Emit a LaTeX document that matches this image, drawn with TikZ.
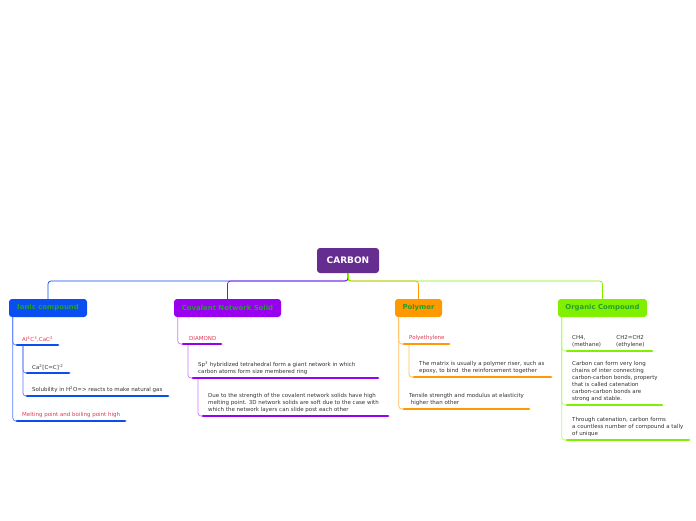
\documentclass[tikz,border=0pt]{standalone}
\usepackage{fontspec}
\setmainfont{DejaVu Sans}
\definecolor{rootc}{HTML}{662D91}
\definecolor{ionc}{HTML}{0A4DF0}
\definecolor{ionl}{HTML}{5A7DFF}
\definecolor{covc}{HTML}{9A00F0}
\definecolor{covl}{HTML}{CC7AFF}
\definecolor{polc}{HTML}{FF9900}
\definecolor{poll}{HTML}{FFBE5C}
\definecolor{orgc}{HTML}{80F000}
\definecolor{orgl}{HTML}{B0FF60}
\definecolor{topt}{HTML}{22A02A}
\definecolor{redt}{HTML}{E03A55}
\definecolor{grayt}{HTML}{333333}
\tikzset{
  rootbox/.style={fill=rootc, rounded corners=3pt, text=white, font=\bfseries\fontsize{9}{10}\selectfont, minimum width=62pt, minimum height=25pt, inner sep=0},
  topbox/.style={rounded corners=3pt, text=topt, font=\bfseries\fontsize{6.9}{8}\selectfont, minimum height=18pt, inner sep=0},
  subtxt/.style={anchor=south west, inner sep=0, align=left, text=grayt, font=\fontsize{5.5}{7}\selectfont},
  redtxt/.style={subtxt, text=redt},
  ul/.style={line width=2.8pt, line cap=round},
  conn/.style={line width=0.7pt, rounded corners=3pt},
}
\begin{document}
\begin{tikzpicture}[x=1pt,y=-1pt]
\useasboundingbox[fill=white] (0,0) rectangle (696,520);
% root and topics
\node[rootbox] (root) at (348,260.5) {CARBON};
\node[topbox, fill=ionc, minimum width=78pt] (ion) at (48,308) {Ionic compound};
\node[topbox, fill=covc, minimum width=107pt] (cov) at (227.5,308) {Covalent Network Solid};
\node[topbox, fill=polc, minimum width=47pt] (pol) at (418.5,308) {Polymer};
\node[topbox, fill=orgc, minimum width=89pt] (org) at (602.5,308) {Organic Compound};
% main connectors
\draw[conn, ionc] (root.south) |- (300,281) -| (ion.north);
\draw[conn, covc] (root.south) |- (300,281) -| (cov.north);
\draw[conn, polc] (root.south) |- (400,281) -| (pol.north);
\draw[conn, orgc] (root.south) |- (400,281) -| (org.north);
\draw[conn, orgc, rounded corners=0] (root.south) -- (348,281);

% ---------- Ionic ----------
\coordinate (i1) at (17,345); \coordinate (i1e) at (58,345);
\coordinate (i2) at (27,373); \coordinate (i2e) at (69,373);
\coordinate (i3) at (27,396); \coordinate (i3e) at (168,396);
\coordinate (i4) at (17,421); \coordinate (i4e) at (125,421);
\draw[conn, ionl] ([xshift=4pt]ion.south west) |- (i4);
\draw[conn, ionl] ([xshift=4pt]ion.south west) |- (i1);
\draw[conn, ionl] ([xshift=6pt]i1) |- (i3);
\draw[conn, ionl] ([xshift=6pt]i1) |- (i2);
\draw[ul, ionc] (i1) -- (i1e);
\draw[ul, ionc] (i2) -- (i2e);
\draw[ul, ionc] (i3) -- (i3e);
\draw[ul, ionc] (i4) -- (i4e);
\node[redtxt] (ti1) at (22,342) {Al\textsuperscript{4}C\textsuperscript{3},CaC\textsuperscript{2}};
\node[subtxt] (ti2) at (32,370) {Ca\textsuperscript{2}[C=C]\textsuperscript{-2}};
\node[subtxt] (ti3) at (32,393) {Solubility in H\textsuperscript{2}O=> reacts to make natural gas};
\node[redtxt] (ti4) at (22,418) {Melting point and boiling point high};

% ---------- Covalent ----------
\coordinate (c1) at (183,344); \coordinate (c1e) at (221,344);
\coordinate (c2) at (193,378); \coordinate (c2e) at (378,378);
\coordinate (c3) at (203,416); \coordinate (c3e) at (388,416);
\draw[conn, covl] ([xshift=4pt]cov.south west) |- (c1);
\draw[conn, covl] ([xshift=5pt]c1) |- (c2);
\draw[conn, covl] ([xshift=5pt]c2) |- (c3);
\draw[ul, covc] (c1) -- (c1e);
\draw[ul, covc] (c2) -- (c2e);
\draw[ul, covc] (c3) -- (c3e);
\node[redtxt] (tc1) at (189,341) {DIAMOND};
\node[subtxt] (tc2) at (198,375) {Sp\textsuperscript{3} hybridized tetrahedral form a giant network in which\\carbon atoms form size membered ring};
\node[subtxt] (tc3) at (208,413) {Due to the strength of the covalent network solids have high\\melting point. 3D network solids are soft due to the case with\\which the network layers can slide post each other};

% ---------- Polymer ----------
\coordinate (p1) at (404,344); \coordinate (p1e) at (449,344);
\coordinate (p2) at (414,377); \coordinate (p2e) at (551,377);
\coordinate (p3) at (404,409); \coordinate (p3e) at (529,409);
\draw[conn, poll] ([xshift=4pt]pol.south west) |- (p3);
\draw[conn, poll] ([xshift=4pt]pol.south west) |- (p1);
\draw[conn, poll] ([xshift=5pt]p1) |- (p2);
\draw[ul, polc] (p1) -- (p1e);
\draw[ul, polc] (p2) -- (p2e);
\draw[ul, polc] (p3) -- (p3e);
\node[redtxt] (tp1) at (409,341) {Polyethylene};
\node[subtxt] (tp2) at (419,374) {The matrix is usually a polymer riser, such as\\epoxy, to bind\ \ the reinforcement together};
\node[subtxt] (tp3) at (409,406) {Tensile strength and modulus at elasticity\\\ higher than other};

% ---------- Organic ----------
\coordinate (o1) at (567,351); \coordinate (o1e) at (652,351);
\coordinate (o2) at (567,405); \coordinate (o2e) at (662,405);
\coordinate (o3) at (567,440); \coordinate (o3e) at (689,440);
\draw[conn, orgl] ([xshift=4pt]org.south west) |- (o3);
\draw[conn, orgl] ([xshift=4pt]org.south west) |- (o2);
\draw[conn, orgl] ([xshift=4pt]org.south west) |- (o1);
\draw[ul, orgc] (o1) -- (o1e);
\draw[ul, orgc] (o2) -- (o2e);
\draw[ul, orgc] (o3) -- (o3e);
\node[subtxt] (to1) at (572,348) {CH4,\hspace{31pt}CH2=CH2\\(methane)\hspace{15pt}(ethylene)};
\node[subtxt] (to2) at (572,402) {Carbon can form very long\\chains of inter connecting\\carbon-carbon bonds, property\\that is called catenation\\carbon-carbon bonds are\\strong and stable.};
\node[subtxt] (to3) at (572,437) {Through catenation, carbon forms\\a countless number of compound a tally\\of unique};
\end{tikzpicture}
\end{document}
